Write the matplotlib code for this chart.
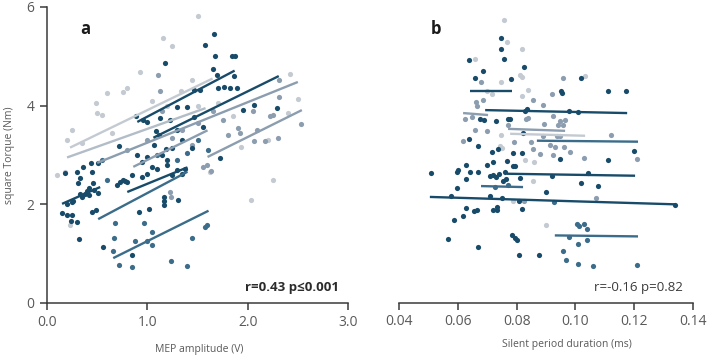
import matplotlib
matplotlib.use("Agg")
import matplotlib.pyplot as plt

# ---------------- Panel a data (MEP amplitude vs square torque) ----------------
a_dark_x = [1.66,1.57,1.67,1.84,1.87,1.18,1.65,1.69,1.86,1.70,1.76,1.82,1.89,1.47,1.52,2.29,2.06,1.95,1.72,0.72,
            0.89,0.96,1.00,1.13,1.23,1.30,1.40,1.09,1.12,1.30,1.07,1.19,1.55,1.47,
            0.18,0.30,0.36,0.44,0.51,0.33,0.45,0.31,0.46,0.33,0.38,0.42,0.26,0.51,0.49,0.45,0.15,0.20,0.25,0.30,0.24,
            0.32,0.56,0.85,0.92,1.02,1.17,1.17,1.17,1.31,0.73,0.76,0.78,0.80,0.70,0.85,0.95,1.00,1.05,1.10,1.20,1.25,
            1.30,1.35,1.38,0.20,0.25,0.35,0.40,0.42,0.47,0.90,1.00,1.15,1.20,0.95,1.25,1.45,1.35]
a_dark_y = [5.46,5.23,5.00,5.00,5.00,4.87,4.75,4.62,4.60,4.36,4.37,4.35,4.35,4.32,4.32,3.96,4.01,3.91,2.94,3.18,
            3.79,3.70,3.67,3.75,3.71,3.97,3.97,3.49,3.41,3.51,3.20,3.12,3.57,3.77,
            2.63,2.66,2.76,2.84,2.84,2.53,2.66,2.43,2.43,2.21,2.21,2.19,2.07,2.23,1.89,1.85,1.83,1.79,1.78,1.64,1.66,
            1.30,1.14,0.98,1.85,1.90,1.99,2.07,2.15,2.09,2.45,2.50,2.47,2.45,2.40,2.60,2.55,2.62,2.75,2.72,2.80,2.60,
            2.70,2.62,2.72,2.00,2.05,2.15,2.28,2.33,2.30,3.00,2.95,3.00,2.90,2.85,3.15,3.15,3.30]
a_mid_x = [0.68,0.67,0.66,0.72,0.85,0.88,0.97,1.00,1.05,1.05,1.24,1.40,1.45,1.57,1.59,1.10,1.30,1.50,1.60,1.40,0.60,0.55]
a_mid_y = [1.62,1.31,1.06,0.77,0.73,1.26,1.62,1.26,1.44,1.18,0.85,0.74,1.32,1.54,1.58,3.00,2.90,3.30,3.10,3.05,2.50,2.90]
a_gray_x = [1.11,1.13,2.31,2.31,2.53,1.90,1.92,2.22,2.25,2.09,2.06,2.17,2.30,1.59,1.63,1.23,1.24,1.35,1.25,1.50,
            1.75,1.80,1.65,1.00,0.80,1.15,1.45,2.05,1.55]
a_gray_y = [4.62,4.30,4.52,4.17,3.63,3.55,3.45,3.79,3.82,3.51,3.29,3.29,3.35,2.80,2.68,2.26,2.14,3.50,3.35,3.65,
            3.70,3.40,3.90,3.30,3.10,3.90,3.20,3.90,2.75]
a_light_x = [1.50,1.16,1.25,0.93,1.45,0.60,0.80,0.76,1.34,0.49,0.50,0.55,2.42,2.50,1.93,0.23,2.03,2.25,1.62,0.18,
             0.20,0.25,0.10,1.05,1.50,1.70,2.20,2.40,1.85,0.35,0.65,1.20]
a_light_y = [5.82,5.38,5.21,4.68,4.52,4.26,4.35,4.27,4.30,4.06,3.85,3.82,4.64,4.14,3.16,1.58,2.09,2.50,2.66,2.65,
             3.30,3.50,2.60,4.10,4.00,4.05,3.30,3.85,3.80,3.25,3.45,4.00]

# per-subject regression lines, panel a
a_line_x0 = [0.23,0.20,0.50,1.60,0.86,0.90,1.06,0.15,0.80,0.51,0.66]
a_line_x1 = [1.65,1.58,2.50,2.54,1.60,1.87,2.31,0.53,1.40,1.40,1.61]
a_line_y0 = [3.15,2.95,2.84,2.96,2.76,3.67,3.35,2.01,2.25,1.70,0.91]
a_line_y1 = [4.55,3.95,4.48,3.91,3.50,4.71,4.60,2.35,2.75,2.66,1.87]
a_line_c  = ["light","light2","gray","gray","gray","dark","dark","dark","dark","mid","mid"]

# ---------------- Panel b data (silent period vs square torque) ----------------
b_dark_x = [0.0747,0.0747,0.0758,0.0639,0.0826,0.0687,0.0659,0.0781,0.1018,0.0951,0.0953,0.1112,0.1171,0.0834,0.0830,
            0.0979,0.1010,0.0676,0.0690,0.0730,0.0770,0.0776,0.0823,0.0639,0.0670,0.0717,0.0736,0.0789,0.0819,0.0948,
            0.1112,0.1200,0.0509,0.0596,0.0600,0.0628,0.0641,0.0669,0.0700,0.0719,0.0766,0.0788,0.0795,0.0596,0.0628,
            0.0710,0.0720,0.0730,0.0740,0.0760,0.0765,0.0755,0.0812,0.0919,0.1042,0.1018,0.1076,0.0899,0.0577,0.0710,
            0.0749,0.0809,0.1339,0.0628,0.0655,0.0665,0.0720,0.0735,0.0735,0.0819,0.0588,0.0619,0.0568,0.0783,0.0795,
            0.0800,0.0670,0.0809,0.0877]
b_dark_y = [5.38,5.15,4.95,4.92,4.79,4.70,4.56,4.54,4.56,4.30,4.25,4.29,4.29,3.94,3.90,
            3.90,3.87,3.73,3.70,3.68,3.72,3.72,3.45,3.33,3.18,3.06,3.12,3.04,3.04,2.92,
            2.89,3.09,2.64,2.66,2.70,2.79,2.65,2.65,2.79,2.86,2.87,2.78,2.78,2.33,2.52,
            2.58,2.60,2.55,2.62,2.65,2.52,2.48,2.54,2.57,2.64,2.43,2.37,2.25,2.16,2.16,
            2.12,2.06,1.99,1.93,1.87,1.88,1.89,1.88,1.95,1.91,1.68,1.76,1.30,1.38,1.32,
            1.28,1.14,0.97,0.97]
b_mid_x = [0.0928,0.1005,0.1012,0.1030,0.1038,0.0979,0.1038,0.1010,0.0959,0.0967,0.1010,0.1061,0.1209,0.0728,0.0770]
b_mid_y = [2.04,1.60,1.56,1.60,1.50,1.33,1.28,1.20,1.06,0.88,0.79,0.74,0.77,2.36,2.40]
b_gray_x = [0.0679,0.0959,0.0921,0.0662,0.0665,0.0687,0.0857,0.0891,0.0624,0.0647,0.0772,0.0832,0.0840,0.0925,0.0948,
            0.0965,0.0894,0.0940,0.0957,0.0659,0.0698,0.0891,0.0936,0.0948,0.1120,0.0619,0.0791,0.0850,0.0914,0.0930,
            0.0960,0.0855,0.0923,0.0982,0.1030,0.0880,0.1209,0.1069,0.0826]
b_gray_y = [4.48,4.56,4.24,4.08,4.00,4.12,4.12,4.02,3.73,3.77,3.61,3.73,3.75,3.79,3.69,
            3.71,3.62,3.60,3.60,3.50,3.48,3.39,3.38,3.39,3.41,3.29,3.26,3.27,3.20,3.17,
            3.17,3.12,3.00,3.07,2.93,3.02,2.91,2.13,2.07]
b_light_x = [0.0758,0.0766,0.0819,0.0659,0.0818,0.0810,0.0747,0.1033,0.0838,0.0819,0.0715,0.0747,0.0744,0.0750,
             0.0857,0.0789,0.0899,0.0830,0.0860,0.0700]
b_light_y = [5.73,5.30,5.15,4.95,4.58,4.63,4.48,4.60,4.32,4.20,4.24,3.41,3.19,3.15,
             2.48,2.06,1.58,2.90,2.85,4.30]

b_line_x0 = [0.0642,0.0693,0.0618,0.0771,0.0778,0.0869,0.0767,0.0679,0.0505,0.0930]
b_line_x1 = [0.0784,0.1176,0.0703,0.0965,0.1033,0.1213,0.1203,0.0822,0.1339,0.1213]
b_line_y0 = [4.30,3.91,3.85,3.53,3.43,3.29,2.62,2.37,2.15,1.37]
b_line_y1 = [4.30,3.85,3.81,3.49,3.39,3.27,2.58,2.35,2.00,1.35]
b_line_c  = ["dark","dark","gray","gray","light","mid","dark","mid","dark","mid"]

a_xticks = [0.0, 1.0, 2.0, 3.0]
a_xticklabels = ["0.0", "1.0", "2.0", "3.0"]
b_xticks = [0.04, 0.06, 0.08, 0.10, 0.12, 0.14]
b_xticklabels = ["0.04", "0.06", "0.08", "0.10", "0.12", "0.14"]
yticks = [0, 2, 4, 6]

COL = {"dark": "#184b69", "mid": "#3b6c8a", "gray": "#8b9daf", "light": "#c4cad1", "light2": "#b3bdc8"}
TXT = "#595959"

plt.rcParams['font.family'] = ['Open Sans', 'DejaVu Sans']

fig = plt.figure(figsize=(7.09, 3.58), dpi=100)
ax_a = fig.add_axes([47/709, 55/358, 301/709, 296/358])
ax_b = fig.add_axes([399/709, 55/358, 294/709, 296/358])

S = 14
for ax, groups, lines in [
    (ax_a,
     [("light", a_light_x, a_light_y), ("gray", a_gray_x, a_gray_y), ("mid", a_mid_x, a_mid_y), ("dark", a_dark_x, a_dark_y)],
     (a_line_x0, a_line_x1, a_line_y0, a_line_y1, a_line_c)),
    (ax_b,
     [("light", b_light_x, b_light_y), ("gray", b_gray_x, b_gray_y), ("mid", b_mid_x, b_mid_y), ("dark", b_dark_x, b_dark_y)],
     (b_line_x0, b_line_x1, b_line_y0, b_line_y1, b_line_c)),
]:
    for c, xs, ys in groups:
        ax.scatter(xs, ys, s=S, color=COL[c], linewidths=0, zorder=2)
    for x0, x1, y0, y1, c in zip(*lines):
        ax.plot([x0, x1], [y0, y1], color=COL[c], lw=1.7, zorder=3, solid_capstyle='butt')

# Panel a styling
ax_a.set_xlim(0, 3.0)
ax_a.set_ylim(0, 6)
ax_a.set_xticks(a_xticks)
ax_a.set_xticklabels(a_xticklabels)
ax_a.set_yticks(yticks)
ax_a.spines['top'].set_visible(False)
ax_a.spines['right'].set_visible(False)
for sp in ['left', 'bottom']:
    ax_a.spines[sp].set_color('#3a3a3a')
    ax_a.spines[sp].set_linewidth(1.1)
ax_a.tick_params(axis='both', direction='out', length=5, width=1.1, color='#3a3a3a',
                 labelsize=10, labelcolor=TXT, pad=4)
ax_a.set_xlabel("MEP amplitude (V)", fontsize=7.5, color=TXT)
ax_a.xaxis.set_label_coords(0.505, -0.14)
ax_a.set_ylabel("square Torque (Nm)", fontsize=7.5, color=TXT)
ax_a.yaxis.set_label_coords(-0.105, 0.5)
ax_a.text(0.38, 5.55, "a", fontsize=12, fontweight='bold', color='#1a1a1a', ha='center', va='center')
ax_a.text(2.91, 0.32, "r=0.43 p\u22640.001", fontsize=9.5, fontweight='bold', color='#2b2b2b',
          ha='right', va='center')

# Panel b styling
ax_b.set_xlim(0.04, 0.14)
ax_b.set_ylim(0, 6)
ax_b.set_xticks(b_xticks)
ax_b.set_xticklabels(b_xticklabels)
ax_b.set_yticks([])
for sp in ['top', 'right', 'left']:
    ax_b.spines[sp].set_visible(False)
ax_b.spines['bottom'].set_color('#3a3a3a')
ax_b.spines['bottom'].set_linewidth(1.1)
ax_b.tick_params(axis='x', direction='out', length=5, width=1.1, color='#3a3a3a',
                 labelsize=10, labelcolor=TXT, pad=3)
ax_b.set_xlabel("Silent period duration (ms)", fontsize=7.5, color=TXT)
ax_b.xaxis.set_label_coords(0.571, -0.12)
ax_b.text(0.0526, 5.56, "b", fontsize=12, fontweight='bold', color='#1a1a1a', ha='center', va='center')
ax_b.text(0.1366, 0.32, "r=-0.16 p=0.82", fontsize=9.5, color='#3a3a3a', ha='right', va='center')

fig.savefig("out.png", dpi=100)
